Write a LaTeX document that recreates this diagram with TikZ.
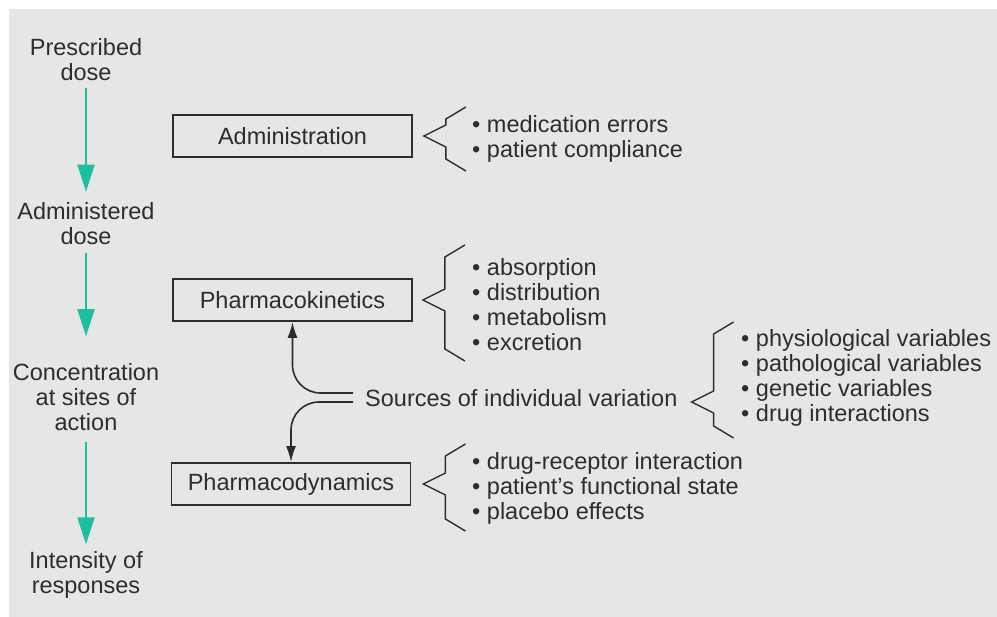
\documentclass[tikz,border=0pt]{standalone}
\usepackage{fontspec}
\setmainfont{Liberation Sans}
\usetikzlibrary{arrows.meta,calc}
\definecolor{bg}{RGB}{230,230,230}
\definecolor{ink}{RGB}{45,45,45}
\definecolor{tealc}{RGB}{32,190,160}
\begin{document}
\begin{tikzpicture}[x=1pt,y=-1pt,
  every node/.style={text=ink, font=\fontsize{23.5}{25}\selectfont, inner sep=0pt},
  sidetext/.style={align=center},
  box/.style={draw=ink, line width=1.8pt, minimum width=239pt, minimum height=42pt},
  items/.style={anchor=west, align=left},
  flow/.style={draw=tealc, line width=2pt, -{Triangle[length=27pt,width=17pt]}},
  varrow/.style={draw=ink, line width=1.6pt, -{Latex[length=16pt,width=10pt]}, rounded corners=28pt},
  bracestyle/.style={draw=ink, line width=1.4pt},
  pics/angbrace/.style 2 args={code={\draw[bracestyle] (42,-#1) -- (22,-#1+12) -- (22,-11) -- (0,0) -- (22,11) -- (22,#2-12) -- (42,#2);}}
]
\fill[white] (0,0) rectangle (997,617);
\fill[bg] (9,9) rectangle (997,617);
\useasboundingbox (0,0) rectangle (997,617);

% left column
\node[sidetext] (pres) at (86,60) {Prescribed\\dose};
\node[sidetext] (admd) at (86,224) {Administered\\dose};
\node[sidetext] (conc) at (86,397) {Concentration\\at sites of\\action};
\node[sidetext] (intens) at (86,575) {Intensity of\\responses};

\draw[flow, shorten <=7pt, shorten >=11pt] (pres) -- (admd);
\draw[flow, shorten <=8pt, shorten >=27pt] (admd) -- (conc);
\draw[flow, shorten <=11pt, shorten >=7pt] (conc) -- (intens);

% boxes
\node[box] (adm) at (292.5,136) {Administration};
\node[box] (pk) at (292.5,300) {Pharmacokinetics};
\node[box] (pd) at (291,484) {Pharmacodynamics};

% sources
\node[anchor=west] (src) at (365,398) {Sources of individual variation};
\draw[varrow] ([xshift=-12pt,yshift=5pt]src.west) -| (pk.south);
\draw[varrow] ([xshift=-12pt,yshift=-4pt]src.west) -| (pd.north);

% braces
\pic at ([xshift=11pt]adm.east) {angbrace={29}{35}};
\pic at ([xshift=10pt]pk.east) {angbrace={55}{61}};
\pic at ([xshift=12pt]pd.east) {angbrace={40}{47}};
\pic at ([xshift=14pt,yshift=-4pt]src.east) {angbrace={80}{36}};

% item lists
\node[items] (admitems) at (472,139) {• medication errors\\• patient compliance};
\node[items] (pkitems) at (472,305) {• absorption\\• distribution\\• metabolism\\• excretion};
\node[items] (pditems) at (472,488) {• drug-receptor interaction\\• patient’s functional state\\• placebo effects};
\node[items] (srcitems) at (741,378) {• physiological variables\\• pathological variables\\• genetic variables\\• drug interactions};
\end{tikzpicture}
\end{document}
